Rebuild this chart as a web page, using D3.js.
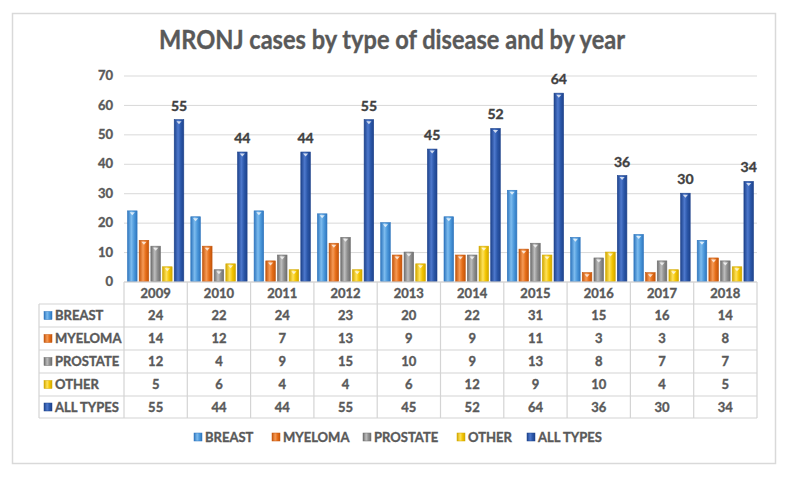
<!DOCTYPE html>
<html><head><meta charset="utf-8">
<script src="https://cdn.jsdelivr.net/npm/d3@7"></script>
<style>
html,body{margin:0;padding:0;background:#fff;}
svg{display:block;font-family:Lato,"Open Sans",sans-serif;}
svg text{paint-order:stroke;stroke-width:0.35px;}
</style></head>
<body>
<svg id="chart" width="793" height="485"></svg>
<script>
const title = "MRONJ cases by type of disease and by year";
const years = ["2009","2010","2011","2012","2013","2014","2015","2016","2017","2018"];
const seriesNames = ["BREAST","MYELOMA","PROSTATE","OTHER","ALL TYPES"];
const breast   = [24,22,24,23,20,22,31,15,16,14];
const myeloma  = [14,12,7,13,9,9,11,3,3,8];
const prostate = [12,4,9,15,10,9,13,8,7,7];
const other    = [5,6,4,4,6,12,9,10,4,5];
const allTypes = [55,44,44,55,45,52,64,36,30,34];
const yTicks = [0,10,20,30,40,50,60,70];

const seriesValues = [breast, myeloma, prostate, other, allTypes];
const colors = [
  {dark:"#2F76BE", mid:"#4A97DA", light:"#7CBBEE"},
  {dark:"#C4560C", mid:"#E46C17", light:"#F69A55"},
  {dark:"#6E6E6E", mid:"#8E8E8E", light:"#BDBDBD"},
  {dark:"#D2A800", mid:"#F2C300", light:"#FFE25A"},
  {dark:"#1E438C", mid:"#2A56A8", light:"#4D78CC"}
];

const svg = d3.select("#chart");
const plotL = 124, plotR = 757, plotT = 75.5, plotB = 281.5;
const textCol = "#595959";

const defs = svg.append("defs");
colors.forEach((c,i)=>{
  const g = defs.append("linearGradient").attr("id","g"+i).attr("x1","0").attr("x2","1").attr("y1","0").attr("y2","0");
  g.append("stop").attr("offset","0%").attr("stop-color",c.dark);
  g.append("stop").attr("offset","40%").attr("stop-color",c.light);
  g.append("stop").attr("offset","70%").attr("stop-color",c.mid);
  g.append("stop").attr("offset","100%").attr("stop-color",c.dark);
});

svg.append("rect").attr("x",12.5).attr("y",13.5).attr("width",763).attr("height",450)
  .attr("fill","#fff").attr("stroke","#d9d9d9").attr("stroke-width",1.5);

svg.append("text").attr("x",392).attr("y",49).attr("text-anchor","middle")
  .attr("font-size",26).attr("font-weight",700).attr("fill","#595959").attr("stroke","#595959").attr("stroke-width",0.7)
  .attr("textLength",466).attr("lengthAdjust","spacingAndGlyphs")
  .text(title);

const x0 = d3.scaleBand().domain(years).range([plotL, plotR]).paddingInner(0).paddingOuter(0);
const x1 = d3.scaleBand().domain(seriesNames).range([0, x0.bandwidth()]).paddingInner(0.18).paddingOuter(0.3);
const y = d3.scaleLinear().domain([0,70]).range([plotB, plotT]);

const yAxis = d3.axisLeft(y).tickValues(yTicks).tickSize(-(plotR-plotL)).tickPadding(11);
const ga = svg.append("g").attr("transform",`translate(${plotL},0)`).call(yAxis);
ga.select(".domain").remove();
ga.selectAll(".tick line").attr("stroke","#d9d9d9").attr("stroke-width",1);
ga.selectAll(".tick text").attr("font-size",13).attr("font-weight",700).attr("fill",textCol).attr("stroke",textCol)
  .attr("font-family","Lato,sans-serif");

const groups = svg.append("g").selectAll("g").data(years).join("g")
  .attr("transform",d=>`translate(${x0(d)},0)`);
groups.each(function(yr, yi){
  const g = d3.select(this);
  seriesNames.forEach((s,si)=>{
    const v = seriesValues[si][yi];
    const bx = x1(s), bw = x1.bandwidth();
    g.append("rect").attr("x",bx).attr("y",y(v)).attr("width",bw).attr("height",y(0)-y(v))
      .attr("fill",`url(#g${si})`).attr("stroke",colors[si].dark).attr("stroke-width",0.6);
    const cx = bx + bw/2, ty = y(v)+1.5;
    g.append("path").attr("d",`M${cx-2.6},${ty}L${cx+2.6},${ty}L${cx},${ty+3}Z`)
      .attr("fill","#ffffff").attr("opacity",0.75);
  });
  const v = allTypes[yi];
  g.append("text").attr("x",x1("ALL TYPES")+x1.bandwidth()/2).attr("y",y(v)-9)
    .attr("text-anchor","middle").attr("font-size",14).attr("font-weight",700).attr("fill","#404040").attr("stroke","#404040")
    .text(v);
});

const tableL = 39;
const rowTops = [282,304,327,350,373,396,418];
const lineCol = "#d4d4d4";
const tbl = svg.append("g");
rowTops.forEach((ry,i)=>{
  tbl.append("line").attr("x1", i===0 ? plotL : tableL).attr("x2",plotR)
    .attr("y1",ry).attr("y2",ry).attr("stroke",lineCol).attr("stroke-width",1.2);
});
const colEdges = years.map(d=>x0(d)).concat([plotR]);
colEdges.forEach(cx=>{
  tbl.append("line").attr("x1",cx).attr("x2",cx).attr("y1",rowTops[0]).attr("y2",rowTops[6])
    .attr("stroke",lineCol).attr("stroke-width",1.2);
});
tbl.append("line").attr("x1",tableL).attr("x2",tableL).attr("y1",rowTops[1]).attr("y2",rowTops[6])
  .attr("stroke",lineCol).attr("stroke-width",1.2);
years.forEach(yr=>{
  tbl.append("text").attr("x",x0(yr)+x0.bandwidth()/2).attr("y",(rowTops[0]+rowTops[1])/2+4.5)
    .attr("text-anchor","middle").attr("font-size",13).attr("font-weight",700).attr("fill",textCol).attr("stroke",textCol).text(yr);
});
seriesNames.forEach((s,si)=>{
  const cy = (rowTops[si+1]+rowTops[si+2])/2;
  tbl.append("rect").attr("x",44).attr("y",cy-4).attr("width",8).attr("height",8)
    .attr("fill",`url(#g${si})`).attr("stroke",colors[si].dark).attr("stroke-width",0.5);
  tbl.append("text").attr("x",55).attr("y",cy+4.5).attr("font-size",13).attr("font-weight",700)
    .attr("fill",textCol).attr("stroke",textCol).text(s);
  years.forEach((yr,yi)=>{
    tbl.append("text").attr("x",x0(yr)+x0.bandwidth()/2).attr("y",cy+4.5)
      .attr("text-anchor","middle").attr("font-size",13).attr("font-weight",700).attr("fill",textCol).attr("stroke",textCol)
      .text(seriesValues[si][yi]);
  });
});

const legendX = [194,272,363,457,527];
const legY = 437;
seriesNames.forEach((s,si)=>{
  svg.append("rect").attr("x",legendX[si]).attr("y",legY-4).attr("width",8).attr("height",8)
    .attr("fill",`url(#g${si})`).attr("stroke",colors[si].dark).attr("stroke-width",0.5);
  svg.append("text").attr("x",legendX[si]+11).attr("y",legY+4.5).attr("font-size",13).attr("font-weight",700)
    .attr("fill",textCol).attr("stroke",textCol).text(s);
});
</script>
</body></html>
